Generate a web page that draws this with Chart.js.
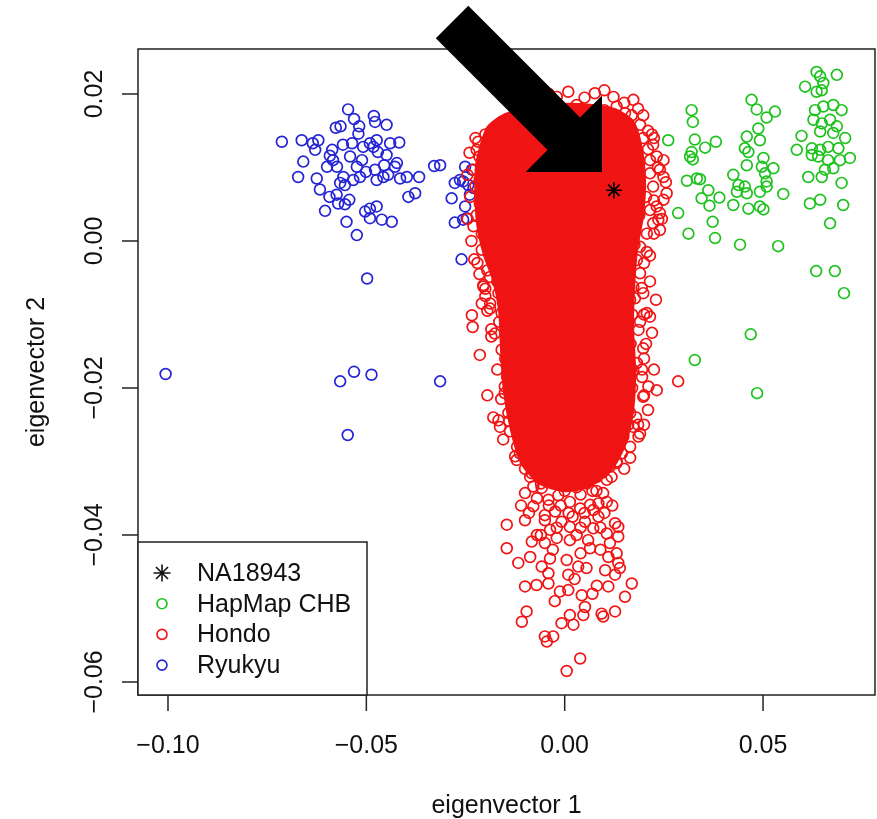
<!DOCTYPE html>
<html>
<head>
<meta charset="utf-8">
<script src="https://cdn.jsdelivr.net/npm/chart.js@4.4.1/dist/chart.umd.min.js"></script>
<style>
  html, body { margin: 0; padding: 0; background: #fff; }
  #wrap { width: 877px; height: 819px; }
</style>
</head>
<body>
<div id="wrap"><canvas id="pca" width="877" height="819"></canvas></div>
<script>
// ---- data (eigenvector 1 = x, eigenvector 2 = y) ----
var xTicks = [-0.10, -0.05, 0.00, 0.05];
var xTickLabels = ['\u22120.10', '\u22120.05', '0.00', '0.05'];
var yTicks = [-0.06, -0.04, -0.02, 0.00, 0.02];
var yTickLabels = ['\u22120.06', '\u22120.04', '\u22120.02', '0.00', '0.02'];
var legendLabels = ['NA18943', 'HapMap CHB', 'Hondo', 'Ryukyu'];

var na18943X = [0.0124];
var na18943Y = [0.0069];

var ryukyuX = [-0.0713,-0.0663,-0.0635,-0.0621,-0.0629,-0.0659,-0.0672,-0.0625,-0.0617,-0.0593,-0.0604,-0.0571,-0.0575,-0.0546,-0.0577,-0.0565,-0.0531,-0.0518,-0.0520,-0.0481,-0.0478,-0.0449,-0.0559,-0.0592,-0.0584,-0.0599,-0.0574,-0.0491,-0.0482,-0.0508,-0.0474,-0.0440,-0.0417,-0.0449,-0.0423,-0.0428,-0.0541,-0.0524,-0.0516,-0.0533,-0.0558,-0.0566,-0.0554,-0.0478,-0.0474,-0.0457,-0.0445,-0.0415,-0.0398,-0.0367,-0.0394,-0.0377,-0.0329,-0.0543,-0.0503,-0.0491,-0.0474,-0.0491,-0.0461,-0.0436,-0.0550,-0.0524,-0.0498,-0.0277,-0.0256,-0.0243,-0.0251,-0.0234,-0.0230,-0.0285,-0.0251,-0.0277,-0.0256,-0.0247,-0.0260,-0.0314,-0.0239,-0.0264,-0.1006,-0.0566,-0.0531,-0.0487,-0.0314,-0.0547,-0.0511,-0.0471,-0.0501,-0.0536,-0.0586,-0.0455,-0.0554];
var ryukyuY = [0.0135,0.0137,0.0133,0.0137,0.0124,0.0108,0.0087,0.0085,0.0070,0.0060,0.0041,0.0051,0.0063,0.0179,0.0154,0.0156,0.0166,0.0156,0.0146,0.0170,0.0162,0.0158,0.0131,0.0116,0.0110,0.0101,0.0101,0.0133,0.0128,0.0128,0.0137,0.0133,0.0134,0.0117,0.0106,0.0101,0.0115,0.0101,0.0087,0.0083,0.0087,0.0079,0.0076,0.0097,0.0083,0.0087,0.0090,0.0085,0.0087,0.0087,0.0060,0.0065,0.0102,0.0056,0.0040,0.0044,0.0047,0.0031,0.0029,0.0026,0.0026,0.0008,-0.0051,0.0079,0.0081,0.0076,0.0101,0.0097,0.0072,0.0058,0.0047,0.0025,0.0029,0.0031,-0.0025,0.0103,0.0063,0.0083,-0.0181,-0.0191,-0.0178,-0.0182,-0.0191,-0.0264,0.0110,0.0121,0.0094,0.0133,0.0124,0.0103,0.0050];

var chbX = [0.0320,0.0323,0.0261,0.0328,0.0354,0.0381,0.0320,0.0316,0.0323,0.0308,0.0333,0.0341,0.0362,0.0345,0.0390,0.0365,0.0286,0.0373,0.0312,0.0379,0.0471,0.0484,0.0530,0.0509,0.0488,0.0492,0.0459,0.0454,0.0463,0.0425,0.0459,0.0501,0.0526,0.0505,0.0497,0.0438,0.0454,0.0459,0.0434,0.0425,0.0463,0.0492,0.0501,0.0492,0.0509,0.0509,0.0551,0.0442,0.0538,0.0635,0.0644,0.0652,0.0686,0.0606,0.0635,0.0648,0.0631,0.0652,0.0677,0.0698,0.0627,0.0648,0.0669,0.0686,0.0644,0.0677,0.0707,0.0597,0.0585,0.0623,0.0644,0.0664,0.0690,0.0719,0.0623,0.0639,0.0664,0.0694,0.0677,0.0656,0.0648,0.0614,0.0698,0.0618,0.0644,0.0702,0.0669,0.0634,0.0681,0.0704,0.0469,0.0328,0.0485];
var chbY = [0.0178,0.0162,0.0137,0.0138,0.0127,0.0135,0.0121,0.0115,0.0111,0.0082,0.0085,0.0084,0.0069,0.0058,0.0059,0.0048,0.0038,0.0026,0.0010,0.0004,0.0192,0.0179,0.0176,0.0168,0.0153,0.0137,0.0142,0.0126,0.0121,0.0090,0.0103,0.0113,0.0099,0.0092,0.0101,0.0076,0.0074,0.0065,0.0067,0.0049,0.0044,0.0047,0.0043,0.0067,0.0074,0.0081,0.0064,-0.0005,-0.0007,0.0230,0.0224,0.0215,0.0226,0.0210,0.0203,0.0205,0.0178,0.0183,0.0185,0.0178,0.0165,0.0160,0.0165,0.0156,0.0149,0.0147,0.0140,0.0143,0.0124,0.0126,0.0124,0.0128,0.0126,0.0113,0.0117,0.0115,0.0110,0.0110,0.0099,0.0097,0.0087,0.0087,0.0079,0.0051,0.0056,0.0049,0.0024,-0.0041,-0.0041,-0.0071,-0.0127,-0.0162,-0.0207];

// Hondo: the saturated core of the cloud, traced as an outline
var hondoCoreX = [-0.0213,-0.0193,-0.0151,-0.0087,-0.0012,0.0064,0.0127,0.0170,0.0190,0.0200,0.0195,0.0180,0.0172,0.0170,0.0175,0.0170,0.0150,0.0114,0.0064,0.0001,-0.0062,-0.0108,-0.0133,-0.0151,-0.0158,-0.0163,-0.0178,-0.0201,-0.0218,-0.0223,-0.0221,-0.0213];
var hondoCoreY = [0.0124,0.0154,0.0171,0.0181,0.0185,0.0184,0.0178,0.0162,0.0131,0.0083,0.0035,-0.0012,-0.0067,-0.0121,-0.0176,-0.0230,-0.0277,-0.0312,-0.0332,-0.0339,-0.0329,-0.0301,-0.0257,-0.0203,-0.0148,-0.0094,-0.0053,-0.0019,0.0022,0.0069,0.0103,0.0124];

// Hondo: individual samples visible around the core and in the tail
var hondoX = [0.0009,0.0076,0.0123,0.0173,-0.0020,-0.0062,0.0131,0.0152,0.0169,0.0198,0.0190,0.0144,0.0123,-0.0159,-0.0134,-0.0163,-0.0218,-0.0222,-0.0188,0.0198,0.0223,0.0232,0.0215,0.0249,0.0240,0.0215,0.0249,0.0190,0.0223,0.0257,0.0249,0.0232,0.0215,0.0240,0.0236,0.0223,0.0240,0.0207,0.0190,0.0207,
  -0.0205,-0.0230,-0.0205,-0.0214,-0.0197,-0.0214,-0.0222,-0.0205,-0.0209,-0.0184,-0.0209,-0.0180,-0.0188,-0.0205,-0.0167,-0.0188,
  0.0182,0.0190,0.0173,0.0198,0.0165,
  -0.0205,-0.0155,-0.0134,-0.0209,-0.0188,-0.0159,-0.0234,-0.0232,-0.0130,-0.0134,-0.0176,-0.0159,-0.0214,-0.0138,-0.0138,-0.0151,-0.0151,-0.0134,-0.0167,-0.0163,-0.0138,-0.0142,-0.0125,-0.0087,-0.0083,-0.0113,
  0.0194,0.0177,0.0207,0.0215,0.0186,0.0198,0.0182,0.0173,0.0211,0.0232,0.0198,0.0165,0.0173,0.0190,0.0186,0.0148,0.0144,0.0131,0.0097,0.0072,0.0118,0.0286,
  -0.0121,-0.0087,-0.0079,-0.0100,-0.0058,-0.0020,0.0013,0.0022,0.0055,0.0081,0.0106,0.0114,0.0131,
  -0.0079,-0.0041,-0.0016,0.0013,0.0039,0.0064,0.0085,0.0097,0.0072,0.0106,
  -0.0146,-0.0100,-0.0050,-0.0024,-0.0008,-0.0037,0.0013,0.0051,0.0127,0.0135,0.0072,0.0106,
  -0.0146,-0.0083,-0.0117,-0.0087,-0.0050,-0.0020,0.0013,0.0030,0.0059,0.0064,0.0135,0.0114,0.0110,
  -0.0037,-0.0058,-0.0041,0.0005,0.0034,0.0009,0.0055,0.0102,0.0131,0.0135,0.0127,0.0139,
  -0.0100,-0.0071,-0.0041,-0.0012,0.0009,0.0043,0.0081,0.0152,0.0169,
  -0.0096,-0.0108,-0.0050,-0.0045,-0.0029,-0.0008,0.0013,0.0022,0.0051,0.0047,0.0093,0.0097,0.0127,
  0.0039,0.0005,
  -0.0060,0.0000,0.0040,-0.0040,0.0010,0.0080,-0.0090,0.0100,-0.0020,0.0040,0.0090,-0.0060,
  0.0178,0.0185,0.0188,0.0176,0.0170,0.0166,0.0170,0.0160,-0.0190,-0.0196,-0.0190,-0.0160,-0.0140,-0.0125,-0.0122,-0.0118,-0.0150,-0.0080,0.0030,0.0100,0.0160,
  -0.0100,-0.0040,0.0050,0.0100,0.0150,-0.0120,0.0185,0.0210,0.0225,
  -0.0225,-0.0200,-0.0215,-0.0225,-0.0200,-0.0230,-0.0195,-0.0220,-0.0195,-0.0170,-0.0200,
  -0.0165,-0.0185,-0.0150,-0.0170,-0.0145,-0.0160,-0.0140,-0.0155,-0.0120,-0.0100,-0.0180,-0.0195,
  0.0210,0.0235,0.0205,0.0225,0.0245,0.0200,0.0215,0.0230,0.0190,0.0220,0.0200,0.0225,0.0195,0.0210,0.0180,0.0200,0.0165,0.0150,
  -0.0050,0.0000,0.0050,0.0095,-0.0030,0.0030,0.0070,-0.0070,-0.0010,0.0050,-0.0050,0.0020,0.0085,0.0120,-0.0110,-0.0030,0.0090,0.0040,-0.0070,0.0025,-0.0025,0.0070,0.0110,
  -0.0240,-0.0245,-0.0238,-0.0245,-0.0235,-0.0228,-0.0215,-0.0200,-0.0195,-0.0185,
  0.0220,0.0255,0.0225,0.0215,0.0200,0.0205,0.0195,0.0200,0.0185,0.0165];
var hondoY = [0.0203,0.0201,0.0196,0.0192,0.0196,0.0187,0.0183,0.0174,0.0171,0.0171,0.0158,0.0158,0.0156,0.0162,0.0156,0.0149,0.0135,0.0124,0.0128,0.0140,0.0131,0.0115,0.0110,0.0110,0.0097,0.0092,0.0087,0.0074,0.0074,0.0065,0.0056,0.0047,0.0042,0.0038,0.0029,0.0024,0.0015,0.0010,-0.0008,-0.0015,
  0.0110,0.0097,0.0097,0.0083,0.0074,0.0051,0.0035,0.0029,0.0010,0.0001,-0.0012,-0.0026,-0.0049,-0.0062,-0.0071,-0.0085,
  -0.0026,-0.0044,-0.0062,-0.0071,-0.0080,
  -0.0060,-0.0058,-0.0060,-0.0085,-0.0092,-0.0098,-0.0101,-0.0117,-0.0083,-0.0110,-0.0126,-0.0148,-0.0155,-0.0135,-0.0173,-0.0198,-0.0207,-0.0223,-0.0244,-0.0253,-0.0259,-0.0234,-0.0293,-0.0300,-0.0316,-0.0289,
  -0.0064,-0.0078,-0.0098,-0.0103,-0.0121,-0.0146,-0.0166,-0.0176,-0.0198,-0.0203,-0.0212,-0.0234,-0.0253,-0.0262,-0.0266,-0.0266,-0.0289,-0.0302,-0.0307,-0.0321,-0.0321,-0.0191,
  -0.0298,-0.0321,-0.0334,-0.0343,-0.0336,-0.0316,-0.0323,-0.0327,-0.0330,-0.0321,-0.0325,-0.0307,-0.0300,
  -0.0361,-0.0352,-0.0346,-0.0355,-0.0364,-0.0359,-0.0357,-0.0343,-0.0366,-0.0355,
  -0.0386,-0.0380,-0.0373,-0.0368,-0.0382,-0.0393,-0.0389,-0.0382,-0.0384,-0.0389,-0.0391,-0.0398,
  -0.0418,-0.0409,-0.0438,-0.0430,-0.0411,-0.0404,-0.0407,-0.0400,-0.0407,-0.0418,-0.0402,-0.0411,-0.0430,
  -0.0432,-0.0443,-0.0452,-0.0434,-0.0443,-0.0454,-0.0445,-0.0448,-0.0425,-0.0438,-0.0454,-0.0445,
  -0.0470,-0.0468,-0.0466,-0.0477,-0.0475,-0.0482,-0.0469,-0.0484,-0.0466,
  -0.0504,-0.0518,-0.0538,-0.0545,-0.0538,-0.0520,-0.0509,-0.0522,-0.0498,-0.0509,-0.0507,-0.0511,-0.0504,
  -0.0568,-0.0585,
  -0.0330,-0.0340,-0.0345,-0.0360,-0.0370,-0.0340,-0.0370,-0.0370,-0.0390,-0.0390,-0.0390,-0.0400,
  0.0125,0.0085,0.0035,-0.0005,-0.0100,-0.0140,-0.0200,-0.0250,0.0125,0.0065,0.0020,-0.0030,-0.0070,-0.0120,-0.0190,-0.0260,0.0160,0.0178,0.0185,0.0178,0.0160,
  0.0190,0.0200,0.0195,0.0205,0.0188,0.0175,0.0180,0.0150,0.0140,
  0.0140,0.0145,0.0115,0.0075,0.0045,0.0020,-0.0005,-0.0030,-0.0040,-0.0055,-0.0075,
  -0.0110,-0.0130,-0.0160,-0.0175,-0.0185,-0.0215,-0.0245,-0.0270,-0.0280,-0.0310,-0.0240,-0.0210,
  0.0125,0.0100,0.0060,0.0010,0.0030,-0.0030,-0.0055,-0.0080,-0.0110,-0.0125,-0.0160,-0.0175,-0.0185,-0.0230,-0.0240,-0.0250,-0.0280,-0.0310,
  -0.0305,-0.0310,-0.0315,-0.0315,-0.0325,-0.0335,-0.0340,-0.0350,-0.0360,-0.0370,-0.0380,-0.0375,-0.0375,-0.0360,-0.0360,-0.0420,-0.0420,-0.0425,-0.0400,-0.0460,-0.0490,-0.0480,-0.0470,
  0.0120,0.0090,0.0060,0.0030,0.0000,-0.0025,-0.0045,-0.0065,-0.0095,-0.0120,
  0.0145,0.0080,0.0055,-0.0020,-0.0100,-0.0140,-0.0175,-0.0210,-0.0250,-0.0295];

// annotation arrow, in data units
var arrowTail = [-0.0284, 0.0298];
var arrowTip = [0.0094, 0.0094];

function pts(xs, ys) {
  return xs.map(function(x, i) { return {x: x, y: ys[i]}; });
}

var RED = '#f01414', GREEN = '#1ec21e', BLUE = '#2424d4', INK = '#111';
var FONT = '25px "Liberation Sans", Arial, Helvetica, sans-serif';
var legendColors = [INK, GREEN, RED, BLUE];

var rPlot = {
  id: 'rPlot',
  afterDraw: function(chart) {
    var ctx = chart.ctx, a = chart.chartArea;
    var xs = chart.scales.x, ys = chart.scales.y;
    ctx.save();
    ctx.strokeStyle = '#222';
    ctx.fillStyle = INK;
    ctx.lineWidth = 1.5;
    ctx.strokeRect(a.left, a.top, a.right - a.left, a.bottom - a.top);

    ctx.font = FONT;
    // x axis
    ctx.textAlign = 'center';
    ctx.textBaseline = 'alphabetic';
    xTicks.forEach(function(v, i) {
      var px = xs.getPixelForValue(v);
      ctx.beginPath(); ctx.moveTo(px, a.bottom); ctx.lineTo(px, a.bottom + 16); ctx.stroke();
      ctx.fillText(xTickLabels[i], px, a.bottom + 58);
    });
    ctx.fillText('eigenvector 1', (a.left + a.right) / 2, a.bottom + 118);

    // y axis (labels rotated, R style)
    yTicks.forEach(function(v, i) {
      var py = ys.getPixelForValue(v);
      ctx.beginPath(); ctx.moveTo(a.left - 16, py); ctx.lineTo(a.left, py); ctx.stroke();
      ctx.save();
      ctx.translate(a.left - 36, py);
      ctx.rotate(-Math.PI / 2);
      ctx.fillText(yTickLabels[i], 0, 0);
      ctx.restore();
    });
    ctx.save();
    ctx.translate(44, (a.top + a.bottom) / 2);
    ctx.rotate(-Math.PI / 2);
    ctx.fillText('eigenvector 2', 0, 0);
    ctx.restore();

    // legend box in lower left corner
    var lx = a.left, ly = 542, lw = 229, lh = a.bottom - 542;
    ctx.fillStyle = '#fff';
    ctx.fillRect(lx, ly, lw, lh);
    ctx.strokeRect(lx, ly, lw, lh);
    ctx.textAlign = 'left';
    ctx.textBaseline = 'middle';
    legendLabels.forEach(function(lab, i) {
      var cy = ly + 31 + i * 30.7, cx = lx + 24;
      ctx.strokeStyle = legendColors[i];
      ctx.lineWidth = 1.6;
      if (i === 0) {
        var r = 8.5, d = r * 0.7071;
        ctx.beginPath();
        ctx.moveTo(cx - r, cy); ctx.lineTo(cx + r, cy);
        ctx.moveTo(cx, cy - r); ctx.lineTo(cx, cy + r);
        ctx.moveTo(cx - d, cy - d); ctx.lineTo(cx + d, cy + d);
        ctx.moveTo(cx - d, cy + d); ctx.lineTo(cx + d, cy - d);
        ctx.stroke();
      } else {
        ctx.beginPath(); ctx.arc(cx, cy, 5, 0, Math.PI * 2); ctx.stroke();
      }
      ctx.fillStyle = INK;
      ctx.fillText(lab, lx + 59, cy + 1);
    });

    // big black arrow drawn over the plot
    var x0 = xs.getPixelForValue(arrowTail[0]), y0 = ys.getPixelForValue(arrowTail[1]);
    var x1 = xs.getPixelForValue(arrowTip[0]), y1 = ys.getPixelForValue(arrowTip[1]);
    var len = Math.hypot(x1 - x0, y1 - y0);
    ctx.translate(x0, y0);
    ctx.rotate(Math.atan2(y1 - y0, x1 - x0));
    var sw = 23, hl = 54, hw = 54;
    ctx.fillStyle = '#000';
    ctx.beginPath();
    ctx.moveTo(0, -sw); ctx.lineTo(len - hl, -sw); ctx.lineTo(len - hl, -hw);
    ctx.lineTo(len, 0);
    ctx.lineTo(len - hl, hw); ctx.lineTo(len - hl, sw); ctx.lineTo(0, sw);
    ctx.closePath();
    ctx.fill();
    ctx.restore();
  }
};

var ring = { pointStyle: 'circle', pointRadius: 5.4, pointHoverRadius: 5.4, pointBorderWidth: 1.7, pointBackgroundColor: 'rgba(0,0,0,0)' };

new Chart(document.getElementById('pca'), {
  type: 'scatter',
  data: {
    datasets: [
      { label: 'NA18943', data: pts(na18943X, na18943Y), order: 0,
        pointStyle: 'star', pointRadius: 8, pointBorderWidth: 1.7, borderColor: '#000', pointBorderColor: '#000' },
      Object.assign({ label: 'HapMap CHB', data: pts(chbX, chbY), order: 1, borderColor: GREEN, pointBorderColor: GREEN }, ring),
      Object.assign({ label: 'Hondo', data: pts(hondoX, hondoY), order: 2, borderColor: RED, pointBorderColor: RED }, ring),
      { type: 'line', label: 'Hondo core', data: pts(hondoCoreX, hondoCoreY), order: 3,
        fill: 'shape', backgroundColor: RED, borderColor: RED, borderWidth: 4, tension: 0.25, pointRadius: 0 },
      Object.assign({ label: 'Ryukyu', data: pts(ryukyuX, ryukyuY), order: 4, borderColor: BLUE, pointBorderColor: BLUE }, ring)
    ]
  },
  options: {
    responsive: false,
    animation: false,
    devicePixelRatio: 1,
    layout: { autoPadding: false, padding: { top: 49, right: 2, left: 0, bottom: 0 } },
    plugins: { legend: { display: false }, tooltip: { enabled: false } },
    scales: {
      x: { type: 'linear', min: -0.10756, max: 0.07822,
           grid: { display: false }, border: { display: false }, ticks: { display: false },
           afterFit: function(s) { s.height = 124; } },
      y: { type: 'linear', min: -0.06177, max: 0.02612,
           grid: { display: false }, border: { display: false }, ticks: { display: false },
           afterFit: function(s) { s.width = 138; } }
    }
  },
  plugins: [rPlot]
});
</script>
</body>
</html>
